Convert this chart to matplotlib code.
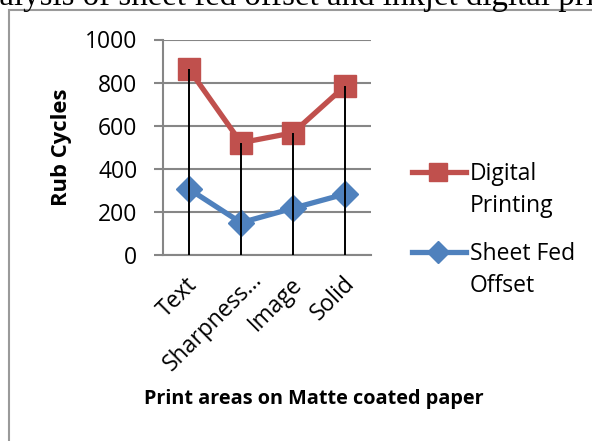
import matplotlib
matplotlib.use("Agg")
import matplotlib.pyplot as plt
import matplotlib.transforms as mtransforms
from matplotlib.patches import Rectangle
from matplotlib.lines import Line2D

categories = ["Text", "Sharpness...", "Image", "Solid"]
digital = [862, 521, 567, 784]
offset = [306, 150, 217, 283]
yticks = [0, 200, 400, 600, 800, 1000]
series_names = [["Digital", "Printing"], ["Sheet Fed", "Offset"]]

RED = "#C0504D"
BLUE = "#4F81BD"
GRID = "#868686"
FONT = "Open Sans"
FS = 16.5

W, H = 592, 441
fig = plt.figure(figsize=(W/100, H/100), dpi=100)

def fx(px):
    return px / W

def fy(py):
    return 1 - py / H

# outer chart border
fig.patches.append(Rectangle((fx(9), -0.1), 1.2, fy(10) + 0.1, transform=fig.transFigure,
                             fill=False, edgecolor="#9a9a9a", linewidth=1.5))

# cut-off document caption above the chart
prefix = "Comparative an"
full = "Comparative analysis of sheet fed offset and inkjet digital printing"
tmp = fig.text(0, 0, prefix, family="Liberation Serif", fontsize=23.7)
fig.canvas.draw()
pw = tmp.get_window_extent().width
tmp.remove()
fig.text(fx(-pw - 1), fy(4.5), full, family="Liberation Serif", fontsize=23.7,
         ha="left", va="baseline")

ax = fig.add_axes([fx(163), fy(255), fx(208), 215.5 / H])
x = list(range(len(categories)))

ax.plot(x, digital, color=RED, lw=3.8, marker="s", markersize=15.5, zorder=3)
ax.plot(x, offset, color=BLUE, lw=3.8, marker="D", markersize=13.5, zorder=3)
tops = [max(a, b) for a, b in zip(digital, offset)]
ax.vlines(x, 0, tops, color="black", lw=1.4, zorder=4)

ax.set_xlim(-0.5, len(categories) - 0.5)
ax.set_ylim(0, 1000)
ax.set_yticks(yticks)
ax.set_yticklabels([str(v) for v in yticks], family=FONT, fontsize=FS)
ax.yaxis.grid(True, color=GRID, lw=1.5)
ax.set_axisbelow(True)
ax.tick_params(axis="y", length=6.5, width=1.5, color=GRID, pad=12)
ax.set_xticks(x)
labels = ax.set_xticklabels(categories, family=FONT, fontsize=FS, rotation=45,
                            ha="right", va="top", rotation_mode="anchor")
ax.tick_params(axis="x", length=0, pad=10)
shifts = [(-4, 4), (9, -1), (-3, 4), (-2, 3)]
for lab, (dx, dy) in zip(labels, shifts):
    lab.set_transform(lab.get_transform() +
                      mtransforms.ScaledTranslation(dx / 100, -dy / 100, fig.dpi_scale_trans))
for s in ["top", "right"]:
    ax.spines[s].set_visible(False)
for s in ["left", "bottom"]:
    ax.spines[s].set_color(GRID)
    ax.spines[s].set_linewidth(1.5)

fig.text(fx(61), fy(147), "Rub Cycles", family=FONT, fontsize=15.8, weight="bold",
         rotation=90, ha="center", va="center")
fig.text(fx(314), fy(399), "Print areas on Matte coated paper", family=FONT,
         fontsize=14.3, weight="bold", ha="center", va="center")

# legend (drawn by hand so the key sits on the first text line)
for (color, marker, ms), names, ly in zip([(RED, "s", 13), (BLUE, "D", 11.5)],
                                          series_names, [172, 252]):
    fig.add_artist(Line2D([fx(412), fx(438), fx(466)], [fy(ly)] * 3, color=color, lw=3.8,
                          marker=marker, markersize=ms, markevery=[1],
                          transform=fig.transFigure))
    fig.text(fx(470), fy(ly + 8), names[0], family=FONT, fontsize=FS, va="baseline")
    fig.text(fx(470), fy(ly + 40), names[1], family=FONT, fontsize=FS, va="baseline")

fig.savefig("out.png", dpi=100)
